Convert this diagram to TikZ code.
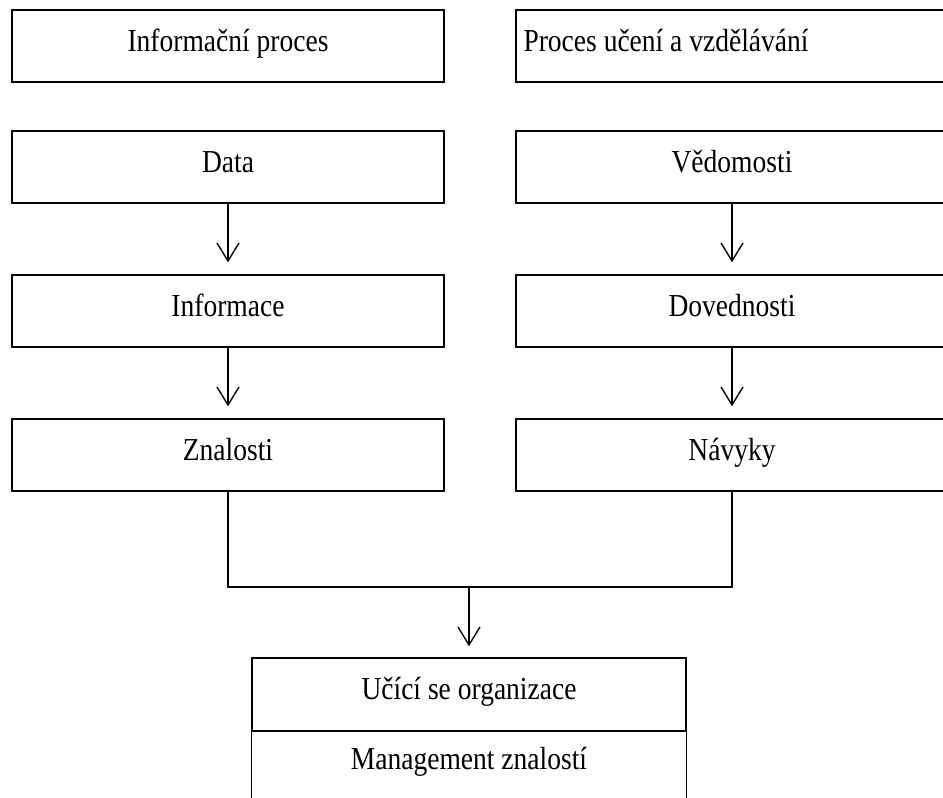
\documentclass[tikz,border=0pt]{standalone}
\usepackage{fontspec}
\setmainfont{Liberation Serif}[FakeStretch=0.86]
\usetikzlibrary{arrows.meta}
\tikzset{
  ln/.style={line width=1.4pt},
  txt/.style={font=\fontsize{32}{38}\selectfont},
  box/.style={draw, ln, txt, minimum width=432pt, minimum height=72pt, inner sep=0pt,
    text height=22pt, text depth=12pt},
  arr/.style={ln, -{Straight Barb[length=18pt,width=22pt,line width=1.4pt]}},
}
\begin{document}
\begin{tikzpicture}[x=1pt,y=-1pt]
\useasboundingbox (0,0) rectangle (943,798);
\clip (0,0) rectangle (943,798);
\fill[white] (0,0) rectangle (943,798);
% left column
\node[box] (ip) at (228,46) {Informační proces};
\node[box] (data) at (228,167) {Data};
\node[box] (info) at (228,311) {Informace};
\node[box] (zn) at (228,455) {Znalosti};
% right column
\node[box] (pu) at (732,46) {};
\node[txt, anchor=base west, inner sep=0pt] (put) at ([xshift=8pt, yshift=-5pt]pu.west) {Proces učení a vzdělávání};
\node[box] (ved) at (732,167) {Vědomosti};
\node[box] (dov) at (732,311) {Dovednosti};
\node[box] (nav) at (732,455) {Návyky};
% bottom box
\node[box, minimum width=434pt, minimum height=73pt] (org) at (469,694.5) {Učící se organizace};
\node[box, draw=none, minimum width=434pt, minimum height=67pt] (mz) at (469,764.5) {Management znalostí};
\draw[ln] (mz.north west) -- (mz.south west);
\draw[ln] (mz.north east) -- (mz.south east);
% arrows
\draw[arr, shorten >=12pt] (data) -- (info);
\draw[arr, shorten >=12pt] (info) -- (zn);
\draw[arr, shorten >=12pt] (ved) -- (dov);
\draw[arr, shorten >=12pt] (dov) -- (nav);
\coordinate (j) at (469,587);
\draw[ln] (zn.south) -- (zn.south |- j) -- (nav.south |- j) -- (nav.south);
\draw[arr, shorten >=11pt] (j) -- (org);
\end{tikzpicture}
\end{document}
